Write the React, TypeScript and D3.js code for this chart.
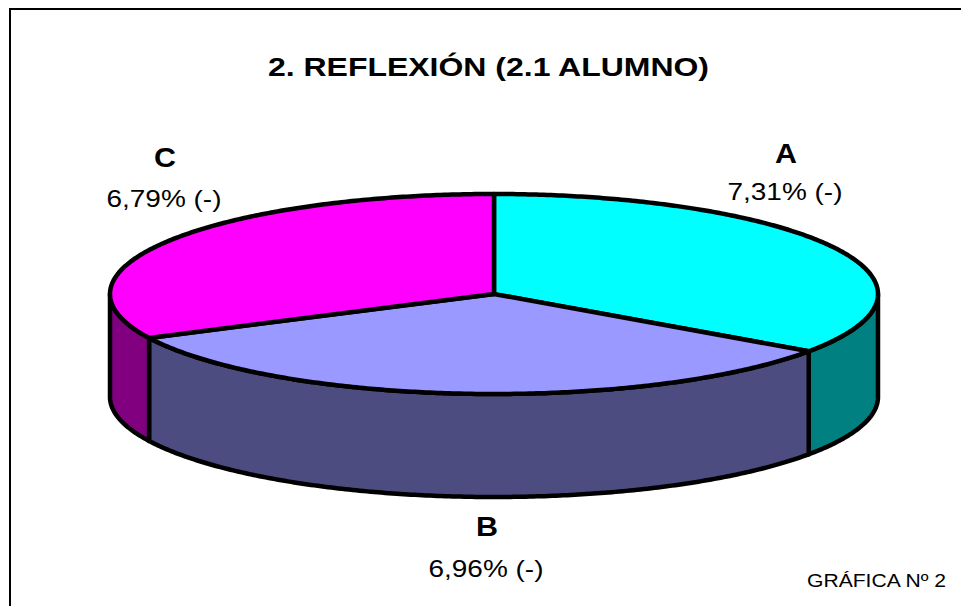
import React from "react";
import * as d3 from "d3";

const categories = ["A", "B", "C"];
const values = [7.31, 6.96, 6.79];
const valueLabels = ["7,31% (-)", "6,96% (-)", "6,79% (-)"];
const topColors = ["#00FFFF", "#9999FF", "#FF00FF"];
const sideColors = ["#008080", "#4C4C80", "#800080"];
const title = "2. REFLEXIÓN (2.1 ALUMNO)";
const footer = "GRÁFICA Nº 2";

const W = 961;
const H = 606;
const cx = 494;
const cy = 294;
const rx = 384;
const ry = 100;
const depth = 103;
const FONT = "'Liberation Sans', Arial, Helvetica, sans-serif";

const labelPos = [
  { x: 786, ly: 163, vy: 200 },
  { x: 487, ly: 536, vy: 577 },
  { x: 165, ly: 167, vy: 207 },
];

function ellPt(a: number, dy = 0): [number, number] {
  return [cx + rx * Math.sin(a), cy - ry * Math.cos(a) + dy];
}

function arcPts(a0: number, a1: number, dy = 0): [number, number][] {
  const n = Math.max(2, Math.ceil(Math.abs(a1 - a0) / 0.01));
  const pts: [number, number][] = [];
  for (let i = 0; i <= n; i++) pts.push(ellPt(a0 + ((a1 - a0) * i) / n, dy));
  return pts;
}

export default function App() {
  const pie = d3.pie<number>().sort(null).value((d) => d);
  const arcs = pie(values);
  const line = d3.line<[number, number]>().x((d) => d[0]).y((d) => d[1]);

  const sides = arcs
    .map((a, i) => {
      const s = Math.max(a.startAngle, Math.PI / 2);
      const e = Math.min(a.endAngle, (3 * Math.PI) / 2);
      if (s >= e) return null;
      const pts = [...arcPts(s, e), ...arcPts(e, s, depth)];
      return { i, d: line(pts) + "Z" };
    })
    .filter(Boolean) as { i: number; d: string }[];

  const tops = arcs.map((a, i) => {
    const pts: [number, number][] = [[cx, cy], ...arcPts(a.startAngle, a.endAngle)];
    return { i, d: line(pts) + "Z" };
  });

  return (
    <svg
      width={W}
      height={H}
      style={{ position: "absolute", left: 0, top: 0, background: "#fff" }}
    >
      <rect x={0} y={0} width={W} height={H} fill="#fff" />
      <rect x={10} y={9} width={1000} height={700} fill="none" stroke="#000" strokeWidth={2} />
      <text
        x={488.5}
        y={76}
        textAnchor="middle"
        fontFamily={FONT}
        fontWeight="bold"
        fontSize={26}
        textLength={441}
        lengthAdjust="spacingAndGlyphs"
      >
        {title}
      </text>
      <g stroke="#000" strokeWidth={4.5} strokeLinejoin="round">
        {sides.map((s) => (
          <path key={"s" + s.i} d={s.d} fill={sideColors[s.i]} />
        ))}
        {tops.map((t) => (
          <path key={"t" + t.i} d={t.d} fill={topColors[t.i]} />
        ))}
      </g>
      {categories.map((c, i) => (
        <g key={c} fontFamily={FONT}>
          <text x={labelPos[i].x} y={labelPos[i].ly} textAnchor="middle" fontWeight="bold" fontSize={27} textLength={22} lengthAdjust="spacingAndGlyphs">
            {c}
          </text>
          <text x={labelPos[i].x - 1} y={labelPos[i].vy} textAnchor="middle" fontSize={24} textLength={115} lengthAdjust="spacingAndGlyphs">
            {valueLabels[i]}
          </text>
        </g>
      ))}
      <text
        x={876.5}
        y={587}
        textAnchor="middle"
        fontFamily={FONT}
        fontSize={19}
        textLength={139}
        lengthAdjust="spacingAndGlyphs"
      >
        {footer}
      </text>
    </svg>
  );
}
